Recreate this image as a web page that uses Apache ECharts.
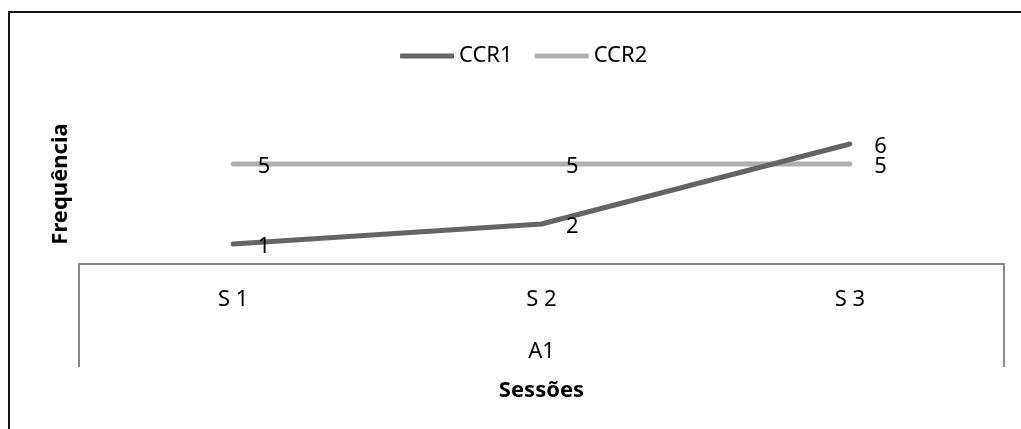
<!DOCTYPE html>
<html>
<head>
<meta charset="utf-8">
<script src="https://cdn.jsdelivr.net/npm/echarts@6/dist/echarts.min.js"></script>
<style>
  html, body { margin: 0; padding: 0; background: #fff; overflow: hidden; }
  #frame { position: absolute; left: 8px; top: 11px; width: 1040px; height: 440px; border: 2px solid #111; box-sizing: border-box; }
  #chart { position: absolute; left: 0; top: 0; width: 1021px; height: 429px; }
</style>
</head>
<body>
<div id="frame"></div>
<div id="chart"></div>
<script>
// Sessions on the inner category level, phase on the outer level
const sessions = ['S 1', 'S 2', 'S 3'];
const phases = ['A1'];
const ccr1 = [1, 2, 6];
const ccr2 = [5, 5, 5];

const FONT = 'Noto Sans';
const chart = echarts.init(document.getElementById('chart'), null, { renderer: 'canvas' });

const labelStyle = {
  show: true,
  position: 'right',
  distance: 24,
  offset: [0, 3],
  color: '#000',
  fontFamily: FONT,
  fontSize: 22
};

chart.setOption({
  animation: false,
  textStyle: { fontFamily: FONT },
  legend: {
    left: 395,
    top: 40,
    icon: 'roundRect',
    itemWidth: 54,
    itemHeight: 5,
    itemGap: 22,
    textStyle: { color: '#000', fontFamily: FONT, fontSize: 22 },
    data: ['CCR1', 'CCR2']
  },
  grid: { left: 79, right: 17, top: 104, height: 160 },
  xAxis: [
    {
      type: 'category',
      data: sessions,
      position: 'bottom',
      axisLine: { show: true, lineStyle: { color: '#888', width: 2 } },
      axisTick: { show: false },
      axisLabel: { color: '#000', fontFamily: FONT, fontSize: 22, margin: 25 }
    },
    {
      type: 'category',
      data: phases,
      position: 'bottom',
      offset: 0,
      axisLine: { show: false },
      axisTick: { show: true, length: 103, lineStyle: { color: '#888', width: 2 } },
      axisLabel: { color: '#000', fontFamily: FONT, fontSize: 22, margin: 77 },
      name: 'Sessões',
      nameLocation: 'middle',
      nameGap: 116,
      nameTextStyle: { color: '#000', fontFamily: FONT, fontSize: 22, fontWeight: 'bold' }
    }
  ],
  yAxis: {
    type: 'value',
    min: 0,
    max: 8,
    axisLine: { show: false },
    axisTick: { show: false },
    axisLabel: { show: false },
    splitLine: { show: false },
    name: 'Frequência',
    nameLocation: 'middle',
    nameRotate: 90,
    nameGap: 7,
    nameTextStyle: { color: '#000', fontFamily: FONT, fontSize: 22, fontWeight: 'bold' }
  },
  series: [
    {
      name: 'CCR1',
      type: 'line',
      xAxisIndex: 0,
      data: ccr1,
      symbol: 'circle',
      symbolSize: 1,
      itemStyle: { color: '#646464' },
      lineStyle: { color: '#646464', width: 5, cap: 'round', join: 'round' },
      label: labelStyle,
      z: 3
    },
    {
      name: 'CCR2',
      type: 'line',
      xAxisIndex: 0,
      data: ccr2,
      symbol: 'circle',
      symbolSize: 1,
      itemStyle: { color: '#afafaf' },
      lineStyle: { color: '#afafaf', width: 5, cap: 'round', join: 'round' },
      label: labelStyle,
      z: 2
    }
  ]
});
</script>
</body>
</html>
